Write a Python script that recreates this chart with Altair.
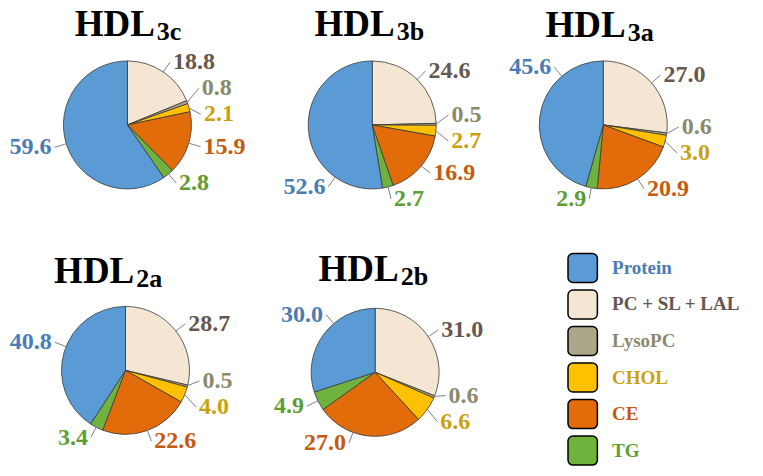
import numpy as np
import pandas as pd
import altair as alt

# %% data (percent of particle mass), clockwise from 12 o'clock
components = ["PC + SL + LAL", "LysoPC", "CHOL", "CE", "TG", "Protein"]
pie_subs = ["3c", "3b", "3a", "2a", "2b"]
hdl3c = [18.8, 0.8, 2.1, 15.9, 2.8, 59.6]
hdl3b = [24.6, 0.5, 2.7, 16.9, 2.7, 52.6]
hdl3a = [27.0, 0.6, 3.0, 20.9, 2.9, 45.6]
hdl2a = [28.7, 0.5, 4.0, 22.6, 3.4, 40.8]
hdl2b = [31.0, 0.6, 6.6, 27.0, 4.9, 30.0]
pie_values = [hdl3c, hdl3b, hdl3a, hdl2a, hdl2b]
legend_order = ["Protein", "PC + SL + LAL", "LysoPC", "CHOL", "CE", "TG"]

# %% styles
fill_colors = {
    "Protein": "#5b9bd5",
    "PC + SL + LAL": "#f4e6d3",
    "LysoPC": "#aca78a",
    "CHOL": "#ffc000",
    "CE": "#e26b0a",
    "TG": "#6fb23e",
}
text_colors = {
    "Protein": "#4a7cb5",
    "PC + SL + LAL": "#66574f",
    "LysoPC": "#8b8a6c",
    "CHOL": "#c9a20e",
    "CE": "#c55a11",
    "TG": "#5c9e31",
}
FONT = "Liberation Serif"

# %% layout (in reference-picture pixels)
centers = [(122, 121), (372, 121), (608, 121), (120, 375), (375, 377)]
title_join = [(150, 29), (395, 29), (631, 30), (129, 285), (399, 283)]
R = 64
LABEL_GAP = 27
anchor_override = {
    ("3b", "Protein"): 215,
    ("3a", "Protein"): 320,
    ("2a", "Protein"): 292,
    ("2b", "CE"): 200,
    ("2b", "Protein"): 320,
}
LEG_X, LEG_Y, LEG_STEP = 572, 254, 37.8

# %% build tables
slices, labels = [], []
for sub, vals, (cx, cy) in zip(pie_subs, pie_values, centers):
    v = np.array(vals)
    frac = v / v.sum()
    ends = np.cumsum(frac)
    starts = ends - frac
    rows = []
    for comp, val, t0, t1 in zip(components, vals, starts, ends):
        slices.append(dict(pie=sub, comp=comp, cx=cx, cy=cy, t0=t0, t1=t1,
                           fill=fill_colors[comp]))
        ang = anchor_override.get((sub, comp), 180 * (t0 + t1))
        a = np.radians(ang)
        s, c = np.sin(a), np.cos(a)
        rows.append(dict(pie=sub, comp=comp, label=f"{val:.1f}",
                         ex=cx + (R + 1) * s, ey=cy - (R + 1) * c,
                         lx=cx + (R + 14) * s, ly=cy - (R + 14) * c,
                         side="L" if s < 0 else "R", tcol=text_colors[comp]))
    # spread labels vertically on each side so they do not overlap
    for side in ["L", "R"]:
        grp = sorted([r for r in rows if r["side"] == side], key=lambda r: r["ly"])
        for _ in range(30):
            for p, q in zip(grp[:-1], grp[1:]):
                d = q["ly"] - p["ly"]
                if d < LABEL_GAP:
                    p["ly"] -= (LABEL_GAP - d) / 2
                    q["ly"] += (LABEL_GAP - d) / 2
    labels += rows

sl = pd.DataFrame(slices)
lab = pd.DataFrame(labels)
lab["tx"] = np.where(lab.side == "R", lab.lx + 3, lab.lx - 3)

titles = pd.DataFrame({"sub": pie_subs,
                       "jx": [t[0] for t in title_join],
                       "jy": [t[1] for t in title_join]})
titles["main"] = "HDL"
titles["sy"] = titles.jy + 4

leg = pd.DataFrame({"comp": legend_order})
leg["i"] = range(len(leg))
leg["y0"] = LEG_Y + leg.i * LEG_STEP
leg["y1"] = leg.y0 + 30
leg["ym"] = leg.y0 + 15
leg["x0"] = LEG_X
leg["x1"] = LEG_X + 30
leg["tx"] = LEG_X + 45
leg["fill"] = leg.comp.map(fill_colors)
leg["tcol"] = leg.comp.map(text_colors)

# %% chart: the whole 763x476 picture squeezed into the 747x460 area inside the page margin
xs = alt.Scale(domain=[0, 763], zero=False, nice=False)
ys = alt.Scale(domain=[0, 476], zero=False, nice=False, reverse=True)


def X(f):
    return alt.X(f"{f}:Q", scale=xs, axis=None)


def Y(f):
    return alt.Y(f"{f}:Q", scale=ys, axis=None)


arcs = alt.Chart(sl).mark_arc(outerRadius=R, stroke="#3a3a3a", strokeWidth=0.8).encode(
    x=X("cx"), y=Y("cy"),
    theta=alt.Theta("t0:Q", scale=alt.Scale(domain=[0, 1], range=[0, 2 * np.pi])),
    theta2="t1:Q",
    color=alt.Color("fill:N", scale=None),
)

leaders = alt.Chart(lab).mark_rule(color="#808080", strokeWidth=1).encode(
    x=X("ex"), y=Y("ey"), x2="lx:Q", y2="ly:Q"
)

lab_text = alt.Chart(lab).encode(
    x=X("tx"), y=Y("ly"), text="label:N", color=alt.Color("tcol:N", scale=None)
)
text_r = lab_text.transform_filter("datum.side == 'R'").mark_text(
    font=FONT, fontSize=24, fontWeight="bold", baseline="middle", align="left")
text_l = lab_text.transform_filter("datum.side == 'L'").mark_text(
    font=FONT, fontSize=24, fontWeight="bold", baseline="middle", align="right")

t_main = alt.Chart(titles).mark_text(
    font=FONT, fontSize=37, fontWeight="bold", align="right", baseline="alphabetic", color="black"
).encode(x=X("jx"), y=Y("jy"), text="main:N")
t_sub = alt.Chart(titles).mark_text(
    font=FONT, fontSize=26, fontWeight="bold", align="left", baseline="alphabetic",
    color="black", dx=2
).encode(x=X("jx"), y=Y("sy"), text="sub:N")

leg_box = alt.Chart(leg).mark_rect(cornerRadius=5, stroke="black", strokeWidth=1.5).encode(
    x=X("x0"), x2="x1:Q", y=Y("y0"), y2="y1:Q", color=alt.Color("fill:N", scale=None)
)
leg_text = alt.Chart(leg).mark_text(
    font=FONT, fontSize=19, fontWeight="bold", align="left", baseline="middle"
).encode(x=X("tx"), y=Y("ym"), text="comp:N", color=alt.Color("tcol:N", scale=None))

chart = (
    alt.layer(arcs, leaders, text_r, text_l, t_main, t_sub, leg_box, leg_text)
    .properties(width=747, height=460, padding=0, background="white",
                autosize=alt.AutoSizeParams(type="none"))
    .configure_view(strokeWidth=0)
)

chart.save("out.html", embed_options={"renderer": "svg", "actions": False})
